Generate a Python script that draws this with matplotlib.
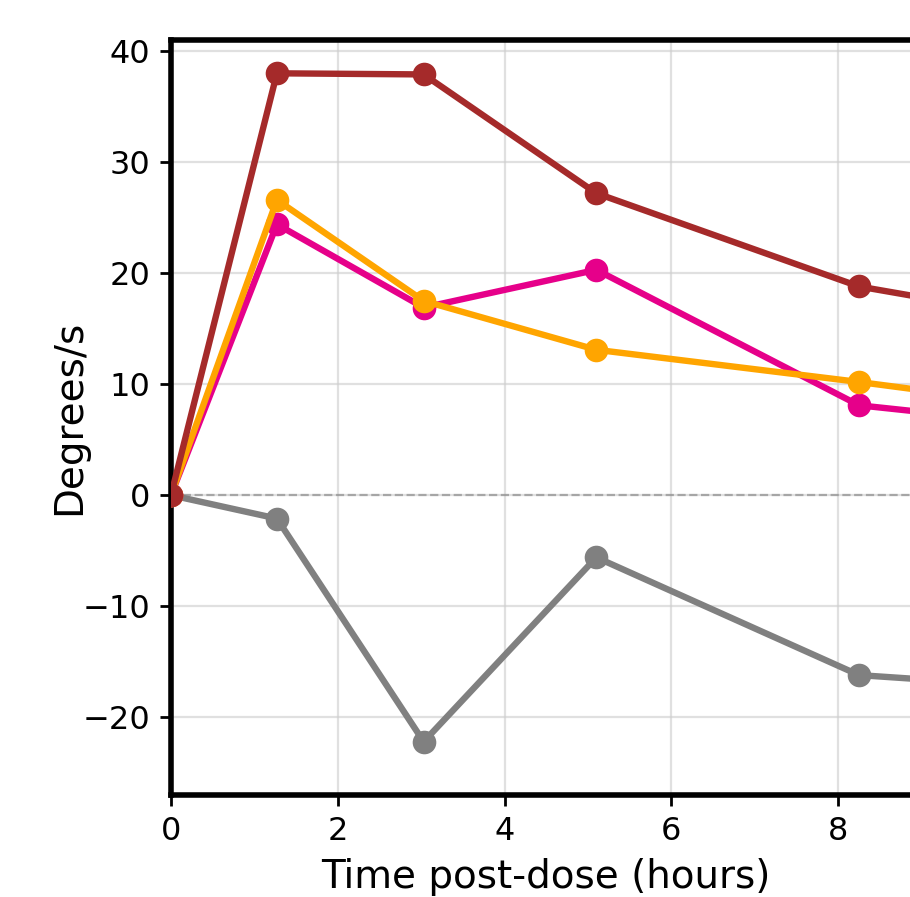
import matplotlib
matplotlib.use("Agg")
import matplotlib.pyplot as plt

# time points (hours); last one lies past the visible crop
times = [0, 1.27, 3.03, 5.10, 8.25, 12.0]

# response series (degrees/s)
brown_vals = [0, 38.0, 37.9, 27.2, 18.8, 13.9]
orange_vals = [0, 26.6, 17.5, 13.1, 10.2, 6.5]
magenta_vals = [0, 24.4, 16.9, 20.3, 8.1, 5.1]
gray_vals = [0, -2.1, -22.2, -5.6, -16.2, -18.1]

x_ticks = [0, 2, 4, 6, 8]
y_ticks = [-20, -10, 0, 10, 20, 30, 40]

fig = plt.figure(figsize=(4.55, 4.485), dpi=200)
# axes run past the right edge of the saved picture (cropped panel)
ax = fig.add_axes([0.1879, 0.1137, 0.8248, 0.8417])

ax.axhline(0, color="gray", linestyle="--", linewidth=0.8, alpha=0.6, zorder=1)

series = [
    (gray_vals, "#808080"),
    (magenta_vals, "#e6008a"),
    (orange_vals, "#ffa500"),
    (brown_vals, "#a52a2a"),
]
for vals, col in series:
    ax.plot(times, vals, color=col, linewidth=2.3, marker="o", markersize=7.5,
            zorder=3)

ax.set_xlim(0, 9)
ax.set_ylim(-27, 41)
ax.set_xticks(x_ticks)
ax.set_yticks(y_ticks)
ax.grid(True, color="#cccccc", alpha=0.6, linewidth=0.8)
ax.set_axisbelow(True)

for side in ["top", "left", "bottom", "right"]:
    ax.spines[side].set_linewidth(2)
    ax.spines[side].set_color("black")

ax.tick_params(labelsize=11.5, width=1, length=4)
ax.set_xlabel("Time post-dose (hours)", fontsize=14)
ax.set_ylabel("Degrees/s", fontsize=14)
ax.yaxis.set_label_coords(-0.11, 0.5)

fig.savefig("out.png", dpi=200)
